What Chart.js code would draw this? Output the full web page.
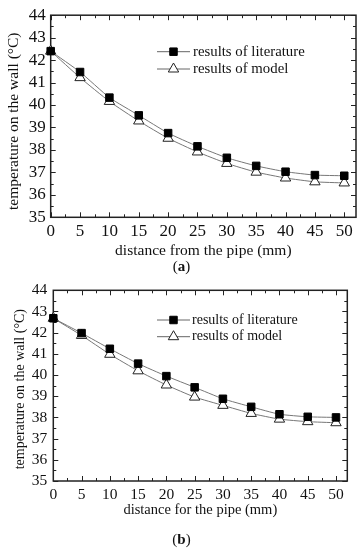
<!DOCTYPE html>
<html>
<head>
<meta charset="utf-8">
<script src="https://cdn.jsdelivr.net/npm/chart.js@4/dist/chart.umd.min.js"></script>
<style>
  body { margin: 0; background: #fff; }
  #wrap { position: relative; width: 363px; height: 550px; overflow: hidden; background: #fff; }
  canvas { position: absolute; left: 0; }
  .cap { position: absolute; left: 0; width: 363px; text-align: center; font: 15px "Liberation Serif"; color: #111; }
</style>
</head>
<body>
<div id="wrap">
  <canvas id="chartA" width="363" height="260" style="top:0"></canvas>
  <div class="cap" style="top:258px">(<b>a</b>)</div>
  <canvas id="chartB" width="363" height="244" style="top:275px"></canvas>
  <div class="cap" style="top:531px">(<b>b</b>)</div>
</div>
<script>
// Data
const distances = [0, 5, 10, 15, 20, 25, 30, 35, 40, 45, 50];
const xTicks = [0, 5, 10, 15, 20, 25, 30, 35, 40, 45, 50];
const yTicks = [35, 36, 37, 38, 39, 40, 41, 42, 43, 44];

// (a)
const literatureA = [42.4, 41.47, 40.33, 39.54, 38.75, 38.16, 37.65, 37.29, 37.03, 36.88, 36.85];
const modelA = [42.4, 41.22, 40.16, 39.29, 38.52, 37.91, 37.40, 37.01, 36.75, 36.58, 36.53];
// (b)
const literatureB = [42.68, 41.98, 41.24, 40.54, 39.95, 39.42, 38.88, 38.5, 38.15, 38.03, 38.0];
const modelB = [42.68, 41.87, 40.98, 40.2, 39.53, 38.96, 38.57, 38.19, 37.92, 37.8, 37.75];

const serif = "'Liberation Serif', 'Times New Roman', serif";
Chart.defaults.font.family = serif;
Chart.defaults.font.size = 15;
Chart.defaults.color = "#111";

// Frame and inward ticks on all four sides (Origin style)
const frameTicks = {
  id: "frameTicks",
  beforeDatasetsDraw(chart) {
    const { ctx, chartArea: a, scales } = chart;
    const x = scales.x, y = scales.y;
    ctx.save();
    ctx.strokeStyle = "#222";
    ctx.lineWidth = 1;
    ctx.beginPath();
    for (let v = 0; v <= 50; v += 2.5) {
      const px = Math.round(x.getPixelForValue(v)) + 0.5;
      const len = v % 5 === 0 ? 5 : 3;
      ctx.moveTo(px, a.bottom); ctx.lineTo(px, a.bottom - len);
      ctx.moveTo(px, a.top); ctx.lineTo(px, a.top + len);
    }
    for (let v = 35; v <= 44; v += 0.5) {
      const py = Math.round(y.getPixelForValue(v)) + 0.5;
      const len = v % 1 === 0 ? 5 : 3;
      ctx.moveTo(a.left, py); ctx.lineTo(a.left + len, py);
      ctx.moveTo(a.right, py); ctx.lineTo(a.right - len, py);
    }
    ctx.stroke();
    ctx.lineWidth = 1.5;
    ctx.strokeRect(a.left, a.top, a.right - a.left, a.bottom - a.top);
    ctx.restore();
  }
};

// Rotated y-axis title, placed like the original (slightly below centre)
const yTitle = {
  id: "yTitle",
  afterDraw(chart, args, opts) {
    const { ctx, chartArea: a } = chart;
    ctx.save();
    ctx.translate(opts.x, (a.top + a.bottom) / 2 + opts.shift);
    ctx.rotate(-Math.PI / 2);
    ctx.font = opts.size + "px " + serif;
    ctx.fillStyle = "#111";
    ctx.textAlign = "center";
    ctx.textBaseline = "middle";
    ctx.fillText(opts.text, 0, 0);
    ctx.restore();
  }
};

// Legend drawn inside the plot box
const innerLegend = {
  id: "innerLegend",
  afterDatasetsDraw(chart, args, opts) {
    const { ctx } = chart;
    ctx.save();
    chart.data.datasets.forEach((ds, i) => {
      const y = opts.y[i];
      ctx.strokeStyle = "#666";
      ctx.lineWidth = 1;
      ctx.beginPath();
      ctx.moveTo(opts.x, y); ctx.lineTo(opts.x + 33, y);
      ctx.stroke();
      ctx.fillStyle = ds.pointBackgroundColor;
      ctx.strokeStyle = ds.pointBorderColor;
      ctx.lineWidth = ds.pointBorderWidth;
      Chart.helpers.drawPoint(ctx, {
        pointStyle: ds.pointStyle, radius: ds.pointRadius, rotation: 0, borderWidth: ds.pointBorderWidth
      }, opts.x + 16.5, y);
      ctx.fillStyle = "#111";
      ctx.font = opts.size + "px " + serif;
      ctx.textBaseline = "middle";
      ctx.fillText(ds.label, opts.textX, y);
    });
    ctx.restore();
  }
};

function makeChart(id, literature, model, xTitle, geom) {
  return new Chart(document.getElementById(id), {
    type: "line",
    data: {
      labels: distances,
      datasets: [
        {
          label: "results of literature",
          data: distances.map((d, i) => ({ x: d, y: literature[i] })),
          borderColor: "#777",
          borderWidth: 1,
          pointStyle: "rect",
          pointRadius: 5.3,
          pointBackgroundColor: "#000",
          pointBorderColor: "#000",
          pointBorderWidth: 1,
          tension: 0.15,
          clip: false
        },
        {
          label: "results of model",
          data: distances.map((d, i) => ({ x: d, y: model[i] })),
          borderColor: "#777",
          borderWidth: 1,
          pointStyle: "triangle",
          pointRadius: 6,
          pointBackgroundColor: "#fff",
          pointBorderColor: "#222",
          pointBorderWidth: 1,
          tension: 0.15,
          clip: false
        }
      ]
    },
    options: {
      responsive: false,
      animation: false,
      events: [],
      layout: { padding: { top: geom.top, right: geom.right, left: 0, bottom: 0 } },
      plugins: {
        legend: { display: false },
        tooltip: { enabled: false },
        innerLegend: geom.legend,
        yTitle: geom.yTitle
      },
      scales: {
        x: {
          type: "linear",
          min: 0,
          max: 52,
          grid: { display: false, drawTicks: false },
          border: { display: false },
          afterBuildTicks: (s) => { s.ticks = xTicks.map((v) => ({ value: v })); },
          afterFit: (s) => { s.height = geom.xHeight; },
          ticks: { padding: geom.xPad, maxRotation: 0, autoSkip: false, font: { size: geom.tickSize } },
          title: { display: true, text: xTitle, padding: { top: 0, bottom: 0 }, font: { size: geom.xTitleSize } }
        },
        y: {
          min: 35,
          max: 44,
          grid: { display: false, drawTicks: false },
          border: { display: false },
          afterBuildTicks: (s) => { s.ticks = yTicks.map((v) => ({ value: v })); },
          afterFit: (s) => { s.width = geom.yWidth; },
          ticks: { padding: geom.yPad, autoSkip: false, font: { size: geom.tickSize } },
          title: { display: false }
        }
      }
    },
    plugins: [frameTicks, innerLegend, yTitle]
  });
}

makeChart("chartA", literatureA, modelA, "distance from the pipe (mm)", {
  top: 10, right: 6, xHeight: 42.7, yWidth: 50.7, xPad: 4, yPad: 5,
  tickSize: 17, xTitleSize: 15.5,
  yTitle: { text: "temperature on the wall (°C)", x: 13.5, shift: 5, size: 15.5 },
  legend: { x: 157, textX: 193, y: [51.7, 69], size: 14.8 }
});

makeChart("chartB", literatureB, modelB, "distance for the pipe (mm)", {
  top: 14.3, right: 15.7, xHeight: 38, yWidth: 53.3, xPad: 5, yPad: 6,
  tickSize: 15.5, xTitleSize: 14.5,
  yTitle: { text: "temperature on the wall (°C)", x: 20, shift: 3.5, size: 14 },
  legend: { x: 157, textX: 192, y: [45, 61.7], size: 14 }
});
</script>
</body>
</html>
